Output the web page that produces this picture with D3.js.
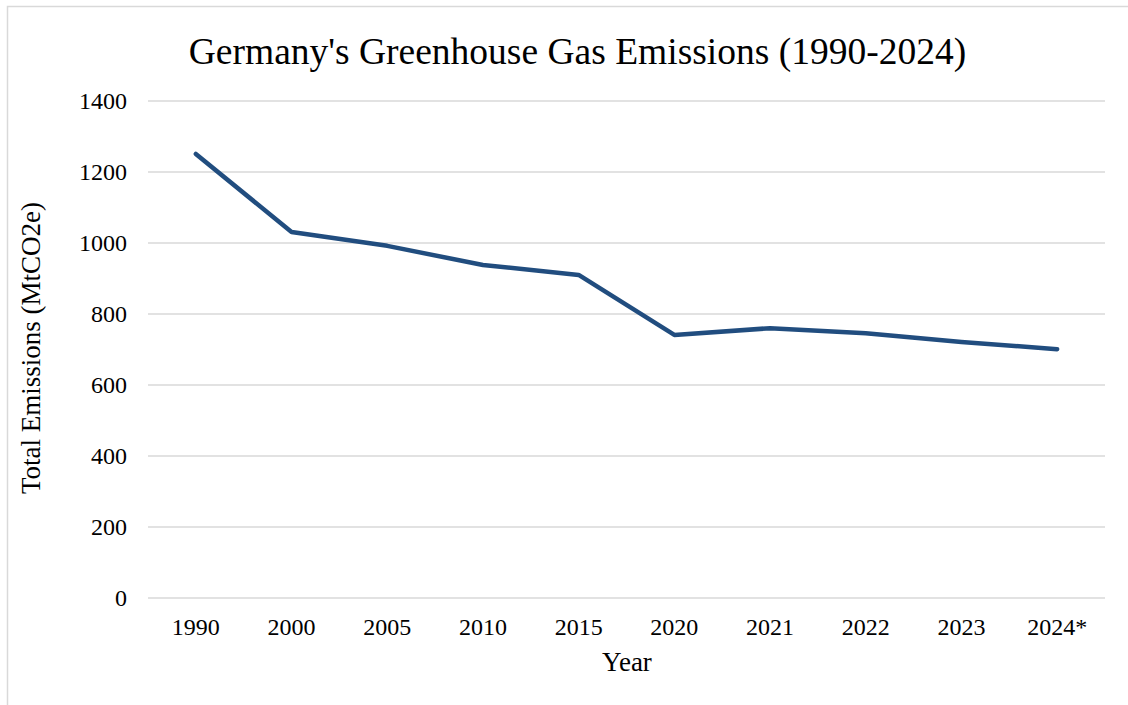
<!DOCTYPE html>
<html><head><meta charset="utf-8">
<script src="https://cdn.jsdelivr.net/npm/d3@7"></script>
<style>body{margin:0;background:#fff}svg{display:block}</style>
</head><body>
<svg id="c" width="1128" height="705"></svg>
<script>
const years = ["1990","2000","2005","2010","2015","2020","2021","2022","2023","2024*"];
const emissions = [1251, 1031, 992, 938, 910, 741, 760, 746, 721, 701];
const yTicks = [0,200,400,600,800,1000,1200,1400];
const titleText = "Germany's Greenhouse Gas Emissions (1990-2024)";
const xTitle = "Year";
const yTitle = "Total Emissions (MtCO2e)";

const svg = d3.select("#c");
const font = "'Liberation Serif','Times New Roman',serif";
svg.append("rect").attr("x",7.5).attr("y",6.5).attr("width",1130).attr("height",710)
  .attr("fill","#fff").attr("stroke","#d9d9d9").attr("stroke-width",1.5);

const x = d3.scalePoint().domain(years).range([148,1105]).padding(0.5);
const y = d3.scaleLinear().domain([0,1400]).range([598,101]);

const g = svg.append("g");
g.selectAll("line.grid").data(yTicks).enter().append("line")
  .attr("x1",148).attr("x2",1105).attr("y1",d=>y(d)).attr("y2",d=>y(d))
  .attr("stroke","#d9d9d9").attr("stroke-width",1.5);

g.selectAll("text.yt").data(yTicks).enter().append("text")
  .attr("x",127).attr("y",d=>y(d)).attr("dy","0.35em").attr("text-anchor","end")
  .attr("font-family",font).attr("font-size",24).attr("fill","#000").text(d=>d);

g.selectAll("text.xt").data(years).enter().append("text")
  .attr("x",d=>x(d)).attr("y",635).attr("text-anchor","middle")
  .attr("font-family",font).attr("font-size",24).attr("fill","#000").text(d=>d);

const line = d3.line().x((d,i)=>x(years[i])).y(d=>y(d));
g.append("path").datum(emissions).attr("d",line).attr("fill","none")
  .attr("stroke","#214d7f").attr("stroke-width",4.5)
  .attr("stroke-linejoin","round").attr("stroke-linecap","round");

svg.append("text").attr("x",577.5).attr("y",64).attr("text-anchor","middle")
  .attr("font-family",font).attr("font-size",37.5).attr("fill","#000").text(titleText);
svg.append("text").attr("x",627).attr("y",671).attr("text-anchor","middle")
  .attr("font-family",font).attr("font-size",27).attr("fill","#000").text(xTitle);
svg.append("text").attr("transform","translate(40,348) rotate(-90)").attr("text-anchor","middle")
  .attr("font-family",font).attr("font-size",27).attr("fill","#000").text(yTitle);
</script>
</body></html>
